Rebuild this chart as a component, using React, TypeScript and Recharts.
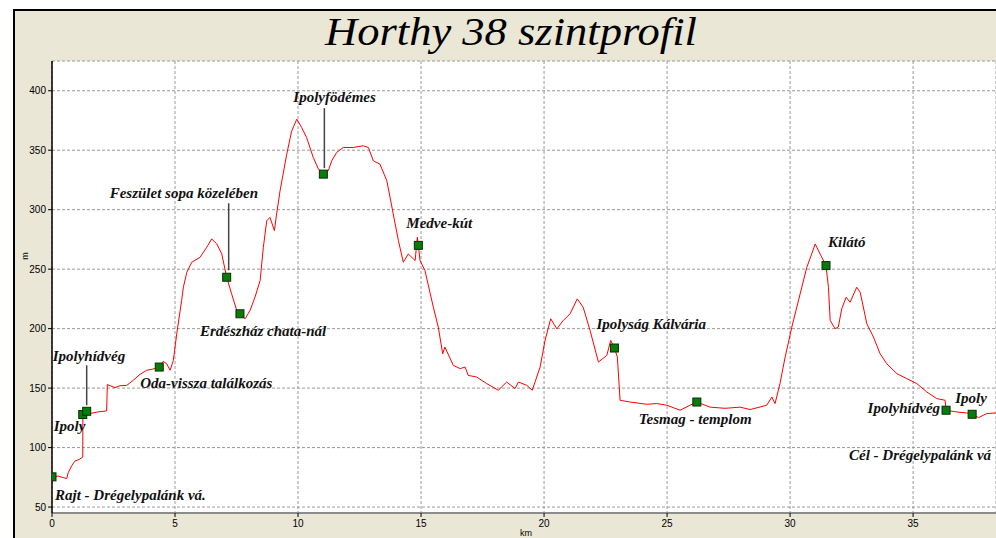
import React from 'react';
import { ComposedChart, Line, Scatter, XAxis, YAxis, CartesianGrid } from 'recharts';

const title = 'Horthy 38 szintprofil';

const distanceKm = [
  0.0, 0.26, 0.41, 0.6, 0.66, 0.8, 0.93, 1.1, 1.25, 1.255, 1.41, 1.54, 1.87, 2.22, 2.25,
  2.56, 2.76, 3.04, 3.3, 3.58, 3.85, 4.1, 4.36, 4.52, 4.66, 4.8, 4.93, 5.07, 5.27, 5.34,
  5.48, 5.68, 6.02, 6.29, 6.49, 6.7, 6.9, 7.1, 7.3, 7.51, 7.64, 7.85, 8.05, 8.25, 8.46,
  8.59, 8.73, 8.86, 9.04, 9.13, 9.27, 9.54, 9.74, 9.95, 10.15, 10.35, 10.62, 10.83, 11.03,
  11.23, 11.37, 11.57, 11.84, 12.25, 12.65, 12.86, 13.06, 13.33, 13.61, 13.87, 14.08, 14.28,
  14.48, 14.55, 14.69, 14.76, 14.85, 14.89, 14.96, 15.16, 15.5, 15.7, 15.88, 15.97, 16.31,
  16.59, 16.79, 16.92, 17.26, 17.67, 18.14, 18.48, 18.82, 18.96, 19.3, 19.52, 19.84, 20.04,
  20.27, 20.52, 20.78, 21.06, 21.35, 21.59, 21.87, 22.21, 22.55, 22.71, 22.86, 22.98, 23.09,
  23.5, 24.17, 24.58, 24.99, 25.53, 25.93, 26.21, 26.75, 27.36, 27.97, 28.37, 28.78, 29.05,
  29.26, 29.39, 29.59, 29.8, 30.07, 30.41, 30.68, 30.88, 31.02, 31.22, 31.46, 31.56, 31.63,
  31.83, 31.96, 32.1, 32.28, 32.44, 32.71, 32.85, 33.12, 33.39, 33.66, 33.93, 34.34, 34.74,
  35.15, 35.56, 35.96, 36.3, 36.34, 36.78, 37.18, 37.4, 37.66, 38.0, 38.37,
];

const elevationM = [
  75.4, 76, 75, 74, 79, 84.6, 88.6, 90, 92, 127.8, 130.5, 128.6, 130, 130.8, 153,
  150.4, 152, 152.3, 156.5, 161.6, 165, 166, 167.7, 172.5, 170.5, 165, 173, 195.7, 223.7, 234.8,
  247.4, 255.8, 260, 268.4, 275.4, 271.2, 262.8, 243.2, 229.3, 215.3, 212.5, 208.3, 215.3, 226.4, 240.4,
  268.4, 290.8, 293.5, 282.4, 296.4, 315.9, 346.6, 366, 376.1, 369, 360.6, 343.9, 334.1, 329.9,
  332.7, 341.1, 348.1, 352.3, 352.3, 353.7, 352.3, 341.1, 338.3, 324.3, 296.4, 274, 255.8,
  262.8, 261.4, 258.6, 257.2, 276.8, 270, 257.2, 248.8, 218, 201.3, 178.9, 184.5, 169.1,
  166.4, 167.7, 160.7, 159.3, 153.8, 148.2, 155.1, 149.6, 155.1, 152.3, 148.2, 167.7, 190.1,
  208.3, 199.8, 206.9, 212.5, 225, 218, 198.5, 171.9, 177.5, 190.1, 183.7, 176.1, 139.8,
  138.3, 136.4, 137, 135.6, 131.4, 135.6, 138.3, 134, 133, 134, 132, 134.1, 135.6,
  142.5, 137, 153.8, 176.1, 201.3, 229.3, 251.6, 262.8, 271.2, 262.8, 253, 234.8, 206.9,
  199.9, 201.3, 216.7, 226.4, 222.2, 234.8, 230.6, 204.1, 192.9, 178.9, 170.5, 162.2, 158,
  153.8, 146.7, 141.2, 139.8, 131.4, 129.9, 129.1, 128, 125.2, 128.6, 129.1,
];

const markerNames = [
  'Rajt - Drégelypalánk vá.',
  'Ipoly',
  'Ipolyhídvég',
  'Oda-vissza találkozás',
  'Feszület sopa közelében',
  'Erdészház chata-nál',
  'Ipolyfödémes',
  'Medve-kút',
  'Ipolyság Kálvária',
  'Tesmag - templom',
  'Kilátó',
  'Ipolyhídvég',
  'Ipoly',
  'Cél - Drégelypalánk vá',
];
const markerKm = [0.0, 1.25, 1.41, 4.36, 7.1, 7.64, 11.03, 14.89, 22.86, 26.21, 31.46, 36.34, 37.4, 38.37];
const markerM = [75.4, 127.8, 130.5, 167.7, 243.2, 212.5, 329.9, 270, 183.7, 138.3, 253, 131.4, 128, 129.1];

const xTicks = [0, 5, 10, 15, 20, 25, 30, 35];
const yTicks = [50, 100, 150, 200, 250, 300, 350, 400];

// label placement relative to marker centre (pixels)
const labelLayout: any[] = [
  { dx: 3, dy: 18 },
  { dx: -29, dy: 11 },
  { dx: -34, dy: -55, leader: [0, -6, -46] },
  { dx: -19, dy: 16 },
  { dx: -117, dy: -84, leader: [2, -7, -74] },
  { dx: -40, dy: 17 },
  { dx: -30, dy: -77, leader: [1, -6, -66] },
  { dx: -12, dy: -22 },
  { dx: -18, dy: -24 },
  { dx: -58, dy: 17 },
  { dx: 2, dy: -24 },
  { dx: -6, dy: -2, anchor: 'end' },
  { dx: -17, dy: -16 },
  { dx: -147, dy: 42, hide: true },
];

const profile = distanceKm.map((km, i) => ({ km, m: elevationM[i] }));
const markers = markerKm.map((km, i) => ({ km, m: markerM[i], name: markerNames[i], i }));

const labelFont = "'Liberation Serif', 'DejaVu Serif', serif";

const MarkerShape = (props: any) => {
  const { cx, cy, payload } = props;
  if (cx == null || cy == null || !payload) return null;
  const L = labelLayout[payload.i] || { dx: 0, dy: 0 };
  return (
    <g>
      {L.leader && (
        <line
          x1={cx + L.leader[0]}
          y1={cy + L.leader[1]}
          x2={cx + L.leader[0]}
          y2={cy + L.leader[2]}
          stroke="#444"
          strokeWidth={1.5}
        />
      )}
      {!L.hide && (
        <rect x={cx - 4} y={cy - 4} width={8} height={8} fill="#0a7a0a" stroke="#053005" strokeWidth={1} />
      )}
      <text
        x={cx + L.dx}
        y={cy + L.dy + 5}
        textAnchor={L.anchor || 'start'}
        fontFamily={labelFont}
        fontStyle="italic"
        fontWeight="bold"
        fontSize={15}
        fill="#111"
      >
        {payload.name}
      </text>
    </g>
  );
};

const tickStyle = { fontSize: 10, fontFamily: "'Liberation Sans', Arial, sans-serif", fill: '#000' };

export default function App() {
  return (
    <div style={{ position: 'absolute', left: 0, top: 0, width: 996, height: 538, background: '#fff', overflow: 'hidden' }}>
      <div
        style={{
          position: 'absolute',
          left: 13,
          top: 9,
          width: 983,
          height: 529,
          background: '#EAE7D7',
          borderLeft: '2px solid #000',
          borderTop: '2px solid #000',
          boxSizing: 'border-box',
        }}
      />
      <div style={{ position: 'absolute', left: 0, top: 0 }}>
        <ComposedChart width={996} height={538} margin={{ top: 61, right: 0, bottom: 0, left: 12 }}>
          <CartesianGrid fill="#ffffff" stroke="#9a9a9a" strokeDasharray="3 2" />
          <XAxis
            type="number"
            dataKey="km"
            domain={[0, 38.37]}
            ticks={xTicks}
            allowDataOverflow
            height={25}
            tickSize={4}
            tickMargin={3}
            tick={tickStyle}
            axisLine={{ stroke: '#8c8c8c', strokeWidth: 2 }}
            tickLine={{ stroke: '#000' }}
          />
          <YAxis
            type="number"
            dataKey="m"
            domain={[45, 425]}
            ticks={yTicks}
            allowDataOverflow
            width={40}
            tickSize={4}
            tickMargin={2}
            tick={tickStyle}
            axisLine={{ stroke: '#000', strokeWidth: 1.5 }}
            tickLine={{ stroke: '#000' }}
          />
          <Line
            data={profile}
            dataKey="m"
            type="linear"
            stroke="#ff0000"
            strokeWidth={1}
            dot={false}
            activeDot={false}
            isAnimationActive={false}
          />
          <Scatter data={markers} dataKey="m" shape={MarkerShape} isAnimationActive={false} />
        </ComposedChart>
      </div>
      <svg width={996} height={538} style={{ position: 'absolute', left: 0, top: 0, pointerEvents: 'none' }}>
        <text
          x={511}
          y={45}
          textAnchor="middle"
          fontFamily={labelFont}
          fontStyle="italic"
          fontSize={40}
          textLength={372}
          lengthAdjust="spacingAndGlyphs"
          fill="#000"
        >
          {title}
        </text>
        <text x={526} y={536} textAnchor="middle" fontFamily="'Liberation Sans', Arial, sans-serif" fontSize={9} fill="#000">
          km
        </text>
        <text
          x={28}
          y={256}
          textAnchor="middle"
          transform="rotate(-90 28 256)"
          fontFamily="'Liberation Sans', Arial, sans-serif"
          fontSize={9}
          fill="#000"
        >
          m
        </text>
      </svg>
    </div>
  );
}
